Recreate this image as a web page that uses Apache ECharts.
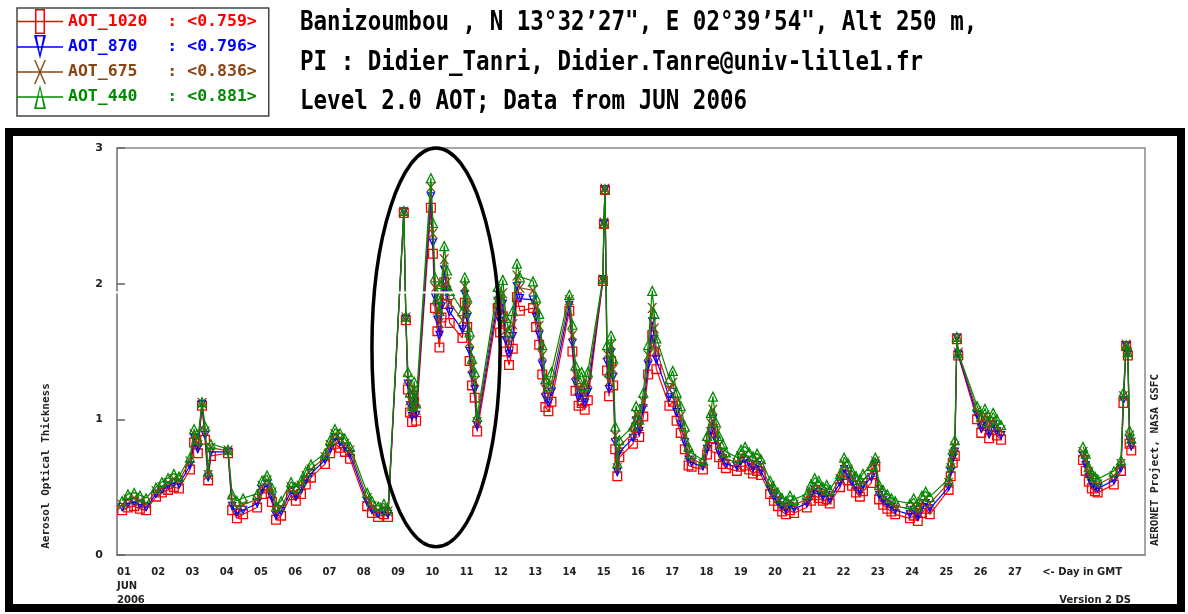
<!DOCTYPE html>
<html><head><meta charset="utf-8">
<script src="https://cdn.jsdelivr.net/npm/echarts@6/dist/echarts.min.js"></script>
<style>html,body{margin:0;padding:0;background:#fff}#c{width:1188px;height:614px}</style>
</head><body><div id="c"></div>
<script>
// ---- data (day of June 2006, GMT) ----
const days = [
 1.15,1.32,1.50,1.67,1.85, 2.14,2.31,2.49,2.66,2.81,
 3.13,3.25,3.36,3.48,3.57,3.66,3.74, 4.24,4.36,4.50,4.68,
 5.09,5.23,5.38,5.52,5.64,5.79, 6.08,6.22,6.37,6.51,6.66,
 7.07,7.22,7.36,7.51,7.65,7.80, 8.30,8.44,8.62,8.79,8.91,
 9.37,9.43,9.49,9.55,9.61,9.67,9.73,
 10.16,10.22,10.28,10.35,10.41,10.47,10.55,10.63,10.71,
 11.08,11.15,11.22,11.29,11.36,11.44,11.51,
 12.11,12.18,12.26,12.35,12.44,12.55,12.67,12.76,
 13.14,13.23,13.32,13.41,13.50,13.59,13.68,
 14.20,14.29,14.38,14.47,14.56,14.65,14.74,
 15.18,15.21,15.24,15.30,15.36,15.42,15.48,15.54,15.60,15.66,
 16.06,16.15,16.24,16.36,16.50,16.62,16.68,16.74,
 17.12,17.22,17.33,17.45,17.57,17.68,17.77,
 18.10,18.22,18.33,18.39,18.48,18.57,18.68,18.77,
 19.09,19.21,19.33,19.45,19.56,19.68,19.79,
 20.06,20.17,20.29,20.41,20.52,20.64,20.76,
 21.13,21.25,21.36,21.48,21.60,21.71,21.80,
 22.10,22.22,22.33,22.45,22.57,22.68,22.77,
 23.01,23.13,23.24,23.36,23.48,23.60,23.71,
 24.14,24.25,24.37,24.49,24.60,24.72,
 25.27,25.33,25.39,25.45,25.51,25.55,
 26.10,26.22,26.33,26.45,26.57,26.68,26.80,
 28.00,
 29.19,29.27,29.36,29.45,29.54,29.62,
 30.09,30.30,30.37,30.45,30.50,30.55,30.60
];
const aot440 = [
 0.40,0.45,0.46,0.44,0.42, 0.50,0.54,0.57,0.60,0.58,
 0.72,0.93,0.85,1.13,0.95,0.62,0.82, 0.78,0.45,0.40,0.42,
 0.45,0.55,0.59,0.50,0.36,0.40, 0.54,0.50,0.55,0.62,0.67,
 0.75,0.85,0.93,0.90,0.86,0.80, 0.46,0.40,0.36,0.38,0.34,
 2.54,1.76,1.35,1.20,1.10,1.28,1.12,
 2.78,2.45,2.05,1.90,1.80,2.00,2.28,2.10,1.95,
 1.80,2.05,1.90,1.65,1.45,1.35,1.02,
 1.98,1.90,2.03,1.75,1.65,1.80,2.15,2.05,
 2.02,1.90,1.78,1.55,1.30,1.25,1.35,
 1.92,1.70,1.40,1.30,1.35,1.25,1.35,
 2.04,2.45,2.70,1.55,1.35,1.62,1.45,0.95,0.68,0.85,
 0.95,1.10,1.00,1.20,1.55,1.95,1.78,1.60,
 1.30,1.36,1.20,1.10,0.95,0.80,0.75,
 0.70,0.88,1.05,1.17,0.98,0.88,0.82,0.76,
 0.72,0.78,0.80,0.76,0.73,0.75,0.71,
 0.55,0.50,0.46,0.42,0.40,0.44,0.41,
 0.45,0.52,0.57,0.55,0.50,0.52,0.48,
 0.60,0.72,0.68,0.62,0.58,0.56,0.60,
 0.66,0.72,0.52,0.48,0.45,0.42,0.40,
 0.38,0.42,0.36,0.44,0.47,0.43,
 0.56,0.68,0.78,0.85,1.61,1.49,
 1.10,1.02,1.08,0.98,1.05,1.00,0.96,
 null,
 0.80,0.75,0.65,0.60,0.58,0.56,
 0.62,0.70,1.20,1.55,1.50,0.92,0.86
];
const aot675 = [
 0.37,0.41,0.42,0.40,0.38, 0.47,0.50,0.53,0.56,0.55,
 0.69,0.89,0.81,1.12,0.91,0.59,0.79, 0.77,0.40,0.35,0.37,
 0.41,0.51,0.55,0.46,0.32,0.35, 0.50,0.46,0.51,0.58,0.63,
 0.72,0.81,0.89,0.86,0.82,0.77, 0.42,0.36,0.33,0.35,0.32,
 2.53,1.75,1.30,1.14,1.06,1.22,1.07,
 2.71,2.37,1.97,1.81,1.71,1.91,2.18,2.01,1.86,
 1.73,1.98,1.82,1.57,1.38,1.28,0.98,
 1.92,1.80,1.93,1.66,1.56,1.70,2.06,1.97,
 1.95,1.82,1.69,1.47,1.22,1.18,1.27,
 1.88,1.62,1.33,1.22,1.26,1.18,1.27,
 2.03,2.45,2.70,1.48,1.28,1.55,1.37,0.88,0.64,0.80,
 0.90,1.04,0.95,1.13,1.47,1.82,1.67,1.51,
 1.22,1.27,1.12,1.02,0.88,0.74,0.71,
 0.67,0.82,0.97,1.07,0.90,0.81,0.76,0.71,
 0.68,0.73,0.74,0.71,0.68,0.70,0.66,
 0.51,0.46,0.42,0.38,0.36,0.39,0.37,
 0.41,0.47,0.52,0.50,0.46,0.48,0.44,
 0.56,0.67,0.63,0.58,0.53,0.51,0.55,
 0.61,0.69,0.48,0.44,0.41,0.38,0.36,
 0.34,0.37,0.32,0.39,0.42,0.38,
 0.53,0.64,0.74,0.80,1.60,1.49,
 1.06,0.97,1.03,0.93,1.00,0.95,0.92,
 null,
 0.76,0.70,0.61,0.56,0.54,0.52,
 0.58,0.67,1.17,1.55,1.49,0.88,0.83
];
const aot870 = [
 0.35,0.38,0.39,0.37,0.35, 0.45,0.48,0.51,0.53,0.52,
 0.66,0.86,0.78,1.11,0.88,0.57,0.76, 0.76,0.36,0.31,0.33,
 0.38,0.48,0.52,0.42,0.29,0.32, 0.47,0.43,0.48,0.55,0.60,
 0.70,0.78,0.86,0.83,0.79,0.74, 0.39,0.33,0.30,0.32,0.30,
 2.53,1.74,1.26,1.10,1.02,1.18,1.03,
 2.64,2.30,1.90,1.73,1.62,1.83,2.10,1.93,1.79,
 1.66,1.92,1.75,1.50,1.32,1.22,0.95,
 1.87,1.72,1.85,1.58,1.48,1.61,1.98,1.89,
 1.88,1.75,1.62,1.40,1.16,1.12,1.20,
 1.84,1.56,1.27,1.16,1.19,1.12,1.20,
 2.03,2.44,2.69,1.42,1.22,1.49,1.31,0.83,0.61,0.76,
 0.86,0.99,0.91,1.08,1.40,1.72,1.59,1.44,
 1.16,1.20,1.05,0.96,0.83,0.70,0.68,
 0.65,0.78,0.91,1.00,0.84,0.76,0.71,0.67,
 0.65,0.69,0.70,0.67,0.64,0.66,0.62,
 0.48,0.43,0.39,0.35,0.33,0.36,0.34,
 0.38,0.44,0.48,0.46,0.43,0.44,0.41,
 0.53,0.63,0.59,0.54,0.49,0.47,0.51,
 0.57,0.67,0.44,0.40,0.37,0.35,0.33,
 0.30,0.33,0.28,0.35,0.38,0.34,
 0.50,0.61,0.71,0.76,1.60,1.48,
 1.03,0.93,0.99,0.89,0.96,0.91,0.88,
 null,
 0.73,0.66,0.57,0.52,0.50,0.49,
 0.55,0.64,1.14,1.54,1.48,0.85,0.80
];
const aot1020 = [
 0.33,0.35,0.36,0.34,0.33, 0.43,0.46,0.48,0.50,0.49,
 0.63,0.83,0.75,1.10,0.85,0.55,0.73, 0.75,0.33,0.27,0.30,
 0.35,0.45,0.49,0.39,0.26,0.29, 0.44,0.40,0.45,0.52,0.57,
 0.67,0.75,0.82,0.79,0.76,0.71, 0.36,0.31,0.28,0.30,0.28,
 2.52,1.73,1.22,1.05,0.98,1.13,0.99,
 2.56,2.22,1.82,1.65,1.53,1.75,2.01,1.85,1.71,
 1.60,1.86,1.68,1.43,1.25,1.16,0.91,
 1.82,1.64,1.76,1.50,1.40,1.52,1.90,1.80,
 1.82,1.68,1.55,1.33,1.09,1.06,1.13,
 1.80,1.50,1.21,1.10,1.12,1.07,1.14,
 2.02,2.44,2.69,1.36,1.17,1.43,1.25,0.78,0.58,0.72,
 0.82,0.94,0.87,1.02,1.33,1.62,1.50,1.37,
 1.10,1.13,0.99,0.90,0.78,0.66,0.65,
 0.63,0.74,0.86,0.93,0.79,0.72,0.67,0.64,
 0.62,0.65,0.66,0.63,0.60,0.62,0.59,
 0.45,0.40,0.36,0.32,0.30,0.33,0.31,
 0.35,0.40,0.44,0.42,0.40,0.41,0.38,
 0.50,0.59,0.55,0.51,0.46,0.43,0.47,
 0.53,0.65,0.41,0.37,0.34,0.32,0.30,
 0.27,0.29,0.25,0.31,0.34,0.30,
 0.48,0.58,0.68,0.73,1.59,1.47,
 1.00,0.90,0.95,0.86,0.92,0.88,0.85,
 null,
 0.70,0.62,0.54,0.49,0.47,0.46,
 0.52,0.62,1.12,1.54,1.47,0.82,0.77
];
const seriesNames = ['AOT_1020', 'AOT_870', 'AOT_675', 'AOT_440'];
const seriesMeans = ['0.759', '0.796', '0.836', '0.881'];
const seriesValues = [aot1020, aot870, aot675, aot440];
const dayLabels = ['01','02','03','04','05','06','07','08','09','10','11','12','13','14',
  '15','16','17','18','19','20','21','22','23','24','25','26','27'];
const monthLabel = 'JUN';
const yearLabel = '2006';
const dayAxisNote = '<- Day in GMT';
const headerLines = [
  'Banizoumbou , N 13\u00b032\u201927", E 02\u00b039\u201954", Alt 250 m,',
  'PI : Didier_Tanri, Didier.Tanre@univ-lille1.fr',
  'Level 2.0 AOT; Data from JUN 2006'
];
const yAxisTitle = 'Aerosol Optical Thickness';
const sideNote = 'AERONET Project, NASA GSFC';
const versionNote = 'Version 2 DS';
// annotation ellipse (data units: centre day/value, radii day/value)
const ellipseCenter = [10.31, 1.53];
const ellipseRadius = [1.87, 1.47];

// ---- styles ----
const colors = ['#ff0000', '#0000ff', '#8b4513', '#008a00'];
const symbols = [
  'path://M0 0H10V10H0Z M1.3 1.3V8.7H8.7V1.3Z',
  'path://M0 0H10L5 10Z M2.2 1.1L5 7.0L7.8 1.1Z',
  'path://M0 0L1.7 0L10 10L8.3 10Z M8.3 0L10 0L1.7 10L0 10Z',
  'path://M5 0L10 10H0Z M5 2.7L1.8 8.9H8.2Z'
];
const symbolSizes = [[10, 10], [9, 9], [10, 10], [11, 11]];
const legendIcons = [
  'path://M0 11.7H46V13.3H0Z M18 0H28V25H18Z M19.5 1.5V23.5H26.5V1.5Z',
  'path://M0 11.7H46V13.3H0Z M17 0.5H29L23 24.5Z M19.8 2L23 19L26.2 2Z',
  'path://M0 11.7H46V13.3H0Z M17 0.5L18.5 0.5L29 24.5L27.5 24.5Z M27.5 0.5L29 0.5L18.5 24.5L17 24.5Z',
  'path://M0 11.7H46V13.3H0Z M23 0.5L29 24.5H17Z M23 4.5L19.3 23H26.7Z'
];
const mono = '"DejaVu Sans Mono", "Liberation Mono", monospace';
const sans = '"DejaVu Sans", "Liberation Sans", sans-serif';

const chart = echarts.init(document.getElementById('c'), null, {renderer: 'canvas'});

function buildSeries() {
  return seriesNames.map((name, k) => ({
    name: name,
    type: 'line',
    data: days.map((d, i) => [d, seriesValues[k][i]]),
    connectNulls: false,
    symbol: symbols[k],
    symbolSize: symbolSizes[k],
    showAllSymbol: true,
    itemStyle: {color: colors[k], borderWidth: 0},
    lineStyle: {color: colors[k], width: 1.2},
    emphasis: {disabled: true},
    z: 2 + k
  }));
}

const baseGraphic = [
  {id: 'frame', type: 'rect', shape: {x: 9, y: 132, width: 1172, height: 476},
   style: {fill: 'none', stroke: '#000', lineWidth: 8}, z: 50},
  {id: 'h0', type: 'text', x: 300, y: 9, scaleY: 1.22,
   style: {text: headerLines[0], font: 'bold 22.5px ' + mono, fill: '#000', textVerticalAlign: 'top'}},
  {id: 'h1', type: 'text', x: 300, y: 49, scaleY: 1.22,
   style: {text: headerLines[1], font: 'bold 22.5px ' + mono, fill: '#000', textVerticalAlign: 'top'}},
  {id: 'h2', type: 'text', x: 300, y: 88, scaleY: 1.22,
   style: {text: headerLines[2], font: 'bold 22.5px ' + mono, fill: '#000', textVerticalAlign: 'top'}},
  {id: 'yname', type: 'text', x: 46, y: 466, rotation: Math.PI / 2,
   style: {text: yAxisTitle, font: 'bold 11px ' + mono, fill: '#222', textAlign: 'center', textVerticalAlign: 'middle'}},
  {id: 'side', type: 'text', x: 1155, y: 460, rotation: Math.PI / 2,
   style: {text: sideNote, font: 'bold 11px ' + mono, fill: '#222', textAlign: 'center', textVerticalAlign: 'middle'}},
  {id: 'ver', type: 'text', x: 1131, y: 600,
   style: {text: versionNote, font: 'bold 10px ' + sans, fill: '#222', textAlign: 'right', textVerticalAlign: 'middle'}}
];

const option = {
  animation: false,
  backgroundColor: '#fff',
  grid: {left: 117, right: 43, top: 148, bottom: 59, show: true, borderColor: '#8a8a8a', borderWidth: 1.5,
         containLabel: false, outerBoundsMode: 'none'},
  legend: {
    orient: 'vertical', left: 17, top: 8, padding: [1, 12, 7, 0], itemGap: 1,
    itemWidth: 46, itemHeight: 25, borderColor: '#444', borderWidth: 1.5, backgroundColor: '#fff',
    selectedMode: false, itemStyle: {borderWidth: 0},
    data: seriesNames.map((n, i) => ({name: n, icon: legendIcons[i], textStyle: {color: colors[i]}})),
    formatter: n => {
      const i = seriesNames.indexOf(n);
      return n.padEnd(10, ' ') + ': <' + seriesMeans[i] + '>';
    },
    textStyle: {fontFamily: mono, fontWeight: 'bold', fontSize: 16.5}
  },
  xAxis: {
    type: 'value', min: 1, max: 31, interval: 1,
    axisLine: {show: true, lineStyle: {color: '#8a8a8a', width: 1.5}},
    axisTick: {show: false},
    splitLine: {show: false},
    axisLabel: {
      align: 'left', margin: 10, color: '#222', fontFamily: sans, fontWeight: 'bold', fontSize: 10, lineHeight: 14,
      formatter: v => {
        const i = Math.round(v) - 1;
        if (i === 0) return dayLabels[0] + '\n' + monthLabel + '\n' + yearLabel;
        if (i > 0 && i < dayLabels.length) return dayLabels[i];
        if (i === dayLabels.length) return dayAxisNote;
        return '';
      }
    }
  },
  yAxis: {
    type: 'value', min: 0, max: 3, interval: 1,
    axisLine: {show: true, lineStyle: {color: '#8a8a8a', width: 1.5}},
    axisTick: {show: true, inside: true, length: 8, lineStyle: {color: '#666', width: 1.5}},
    splitLine: {show: false},
    axisLabel: {margin: 14, color: '#222', fontFamily: sans, fontWeight: 'bold', fontSize: 11}
  },
  graphic: baseGraphic,
  series: buildSeries()
};

chart.setOption(option);

// annotation ellipse and the scan artefact line, placed through the axes
const c0 = chart.convertToPixel({gridIndex: 0}, ellipseCenter);
const c1 = chart.convertToPixel({gridIndex: 0}, [ellipseCenter[0] + ellipseRadius[0], ellipseCenter[1] + ellipseRadius[1]]);
const wl0 = chart.convertToPixel({gridIndex: 0}, [1, 1.935]);
const wl1 = chart.convertToPixel({gridIndex: 0}, [11.0, 1.935]);
option.graphic = baseGraphic.concat([
  {id: 'ellipse', type: 'ellipse', shape: {cx: c0[0], cy: c0[1], rx: c1[0] - c0[0], ry: c0[1] - c1[1]},
   style: {fill: 'none', stroke: '#000', lineWidth: 3.5}, z: 60},
  {id: 'artefact', type: 'line', shape: {x1: wl0[0] - 8, y1: wl0[1], x2: wl1[0], y2: wl1[1]},
   style: {stroke: '#fff', lineWidth: 2}, z: 55}
]);
chart.setOption(option, true);
</script>
</body></html>
